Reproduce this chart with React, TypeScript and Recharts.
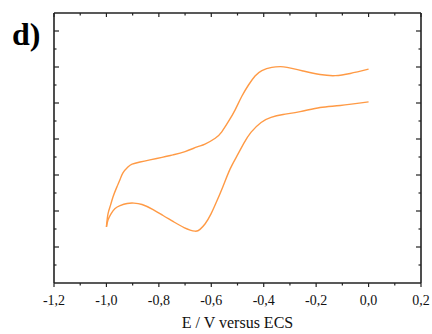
import React from "react";
import { LineChart, Line, XAxis, YAxis } from "recharts";

// Forward sweep (-1.0 V -> 0.0 V), lower branch
const forwardE = [-1.0, -0.994, -0.982, -0.967, -0.948, -0.921, -0.895, -0.864, -0.822, -0.784, -0.746, -0.704, -0.662, -0.643, -0.624, -0.601, -0.578, -0.555, -0.528, -0.502, -0.475, -0.448, -0.41, -0.372, -0.326, -0.261, -0.185, -0.108, 0.0];
const forwardI = [1.56, 1.75, 1.93, 2.07, 2.15, 2.21, 2.22, 2.18, 2.04, 1.875, 1.71, 1.54, 1.44, 1.49, 1.64, 1.92, 2.29, 2.69, 3.17, 3.53, 3.89, 4.19, 4.46, 4.6, 4.68, 4.76, 4.875, 4.93, 5.03];

// Reverse sweep (0.0 V -> -1.0 V), upper branch, listed by increasing E
const reverseE = [-1.0, -0.994, -0.984, -0.975, -0.96, -0.948, -0.937, -0.918, -0.902, -0.872, -0.834, -0.788, -0.746, -0.7, -0.654, -0.624, -0.585, -0.56, -0.535, -0.509, -0.484, -0.458, -0.433, -0.407, -0.369, -0.337, -0.311, -0.25, -0.185, -0.127, -0.07, 0.0];
const reverseI = [1.56, 1.92, 2.17, 2.39, 2.67, 2.875, 3.06, 3.22, 3.3, 3.36, 3.42, 3.49, 3.56, 3.65, 3.78, 3.86, 4.02, 4.2, 4.48, 4.81, 5.18, 5.5, 5.75, 5.9, 5.99, 6.01, 5.99, 5.89, 5.79, 5.76, 5.82, 5.94];

const xTicks = [-1.2, -1.1, -1.0, -0.9, -0.8, -0.7, -0.6, -0.5, -0.4, -0.3, -0.2, -0.1, 0.0, 0.1, 0.2];
const xTickLabels = ["-1,2", "", "-1,0", "", "-0,8", "", "-0,6", "", "-0,4", "", "-0,2", "", "0,0", "", "0,2"];
const yTicks = [0.5, 1, 1.5, 2, 2.5, 3, 3.5, 4, 4.5, 5, 5.5, 6, 6.5, 7];

const forwardData = forwardE.map((e, k) => ({ e, i: forwardI[k] }));
const reverseData = reverseE.map((e, k) => ({ e, i: reverseI[k] }));

const ORANGE = "#FF9A45";
const AXIS = "#222";
const SERIF = "'Liberation Serif', 'Times New Roman', serif";

const BottomTick = (props: any) => {
  const { x, y, index } = props;
  const major = index % 2 === 0;
  return (
    <g>
      <line x1={x} x2={x} y1={y} y2={y + (major ? 4 : 2.5)} stroke={AXIS} strokeWidth={1.2} />
      {major && (
        <text x={x} y={y + 22} textAnchor="middle" fontFamily={SERIF} fontSize={14} fill="#111">
          {xTickLabels[index]}
        </text>
      )}
    </g>
  );
};

const TopTick = (props: any) => {
  const { x, y, index } = props;
  const major = index % 2 === 0;
  return <line x1={x} x2={x} y1={y} y2={y + (major ? 4 : 2.5)} stroke={AXIS} strokeWidth={1.2} />;
};

const LeftTick = (props: any) => {
  const { x, y, payload } = props;
  const major = Number.isInteger(payload.value);
  return <line x1={x} x2={x + (major ? 5 : 2.5)} y1={y} y2={y} stroke={AXIS} strokeWidth={1.2} />;
};

const RightTick = (props: any) => {
  const { x, y, payload } = props;
  const major = Number.isInteger(payload.value);
  return <line x1={x} x2={x - (major ? 5 : 2.5)} y1={y} y2={y} stroke={AXIS} strokeWidth={1.2} />;
};

export default function App() {
  return (
    <div style={{ position: "absolute", left: 0, top: 0, width: 432, height: 334, background: "#fff" }}>
      <LineChart width={432} height={334} margin={{ top: 0, right: 0, bottom: 0, left: 0 }}>
        <XAxis
          xAxisId="bottom"
          dataKey="e"
          type="number"
          domain={[-1.2, 0.2]}
          allowDataOverflow
          ticks={xTicks}
          interval={0}
          height={51}
          tickSize={0}
          tickMargin={0}
          tickLine={false}
          tick={BottomTick}
          axisLine={{ stroke: AXIS, strokeWidth: 1.6 }}
        />
        <XAxis
          xAxisId="top"
          orientation="top"
          dataKey="e"
          type="number"
          domain={[-1.2, 0.2]}
          allowDataOverflow
          ticks={xTicks}
          interval={0}
          height={13}
          tickSize={0}
          tickMargin={0}
          tickLine={false}
          tick={TopTick}
          axisLine={{ stroke: AXIS, strokeWidth: 1.6 }}
        />
        <YAxis
          yAxisId="left"
          type="number"
          domain={[0, 7.5]}
          allowDataOverflow
          ticks={yTicks}
          interval={0}
          width={54}
          tickSize={0}
          tickMargin={0}
          tickLine={false}
          tick={LeftTick}
          axisLine={{ stroke: AXIS, strokeWidth: 1.6 }}
        />
        <YAxis
          yAxisId="right"
          orientation="right"
          type="number"
          domain={[0, 7.5]}
          allowDataOverflow
          ticks={yTicks}
          interval={0}
          width={11}
          tickSize={0}
          tickMargin={0}
          tickLine={false}
          tick={RightTick}
          axisLine={{ stroke: AXIS, strokeWidth: 1.6 }}
        />
        <Line
          xAxisId="bottom"
          yAxisId="left"
          data={forwardData}
          dataKey="i"
          type="natural"
          stroke={ORANGE}
          strokeWidth={1.4}
          dot={false}
          isAnimationActive={false}
        />
        <Line
          xAxisId="bottom"
          yAxisId="left"
          data={reverseData}
          dataKey="i"
          type="natural"
          stroke={ORANGE}
          strokeWidth={1.4}
          dot={false}
          isAnimationActive={false}
        />
        <Line
          xAxisId="top"
          yAxisId="right"
          data={forwardData}
          dataKey="i"
          stroke="none"
          dot={false}
          legendType="none"
          isAnimationActive={false}
        />
      </LineChart>
      <div
        style={{
          position: "absolute",
          left: 12,
          top: 18,
          fontFamily: SERIF,
          fontWeight: "bold",
          fontSize: 32,
          lineHeight: "32px",
          color: "#000",
        }}
      >
        d)
      </div>
      <div
        style={{
          position: "absolute",
          left: 0,
          width: 475,
          top: 314,
          textAlign: "center",
          fontFamily: SERIF,
          fontSize: 16,
          lineHeight: "18px",
          color: "#111",
        }}
      >
        E / V versus ECS
      </div>
    </div>
  );
}
